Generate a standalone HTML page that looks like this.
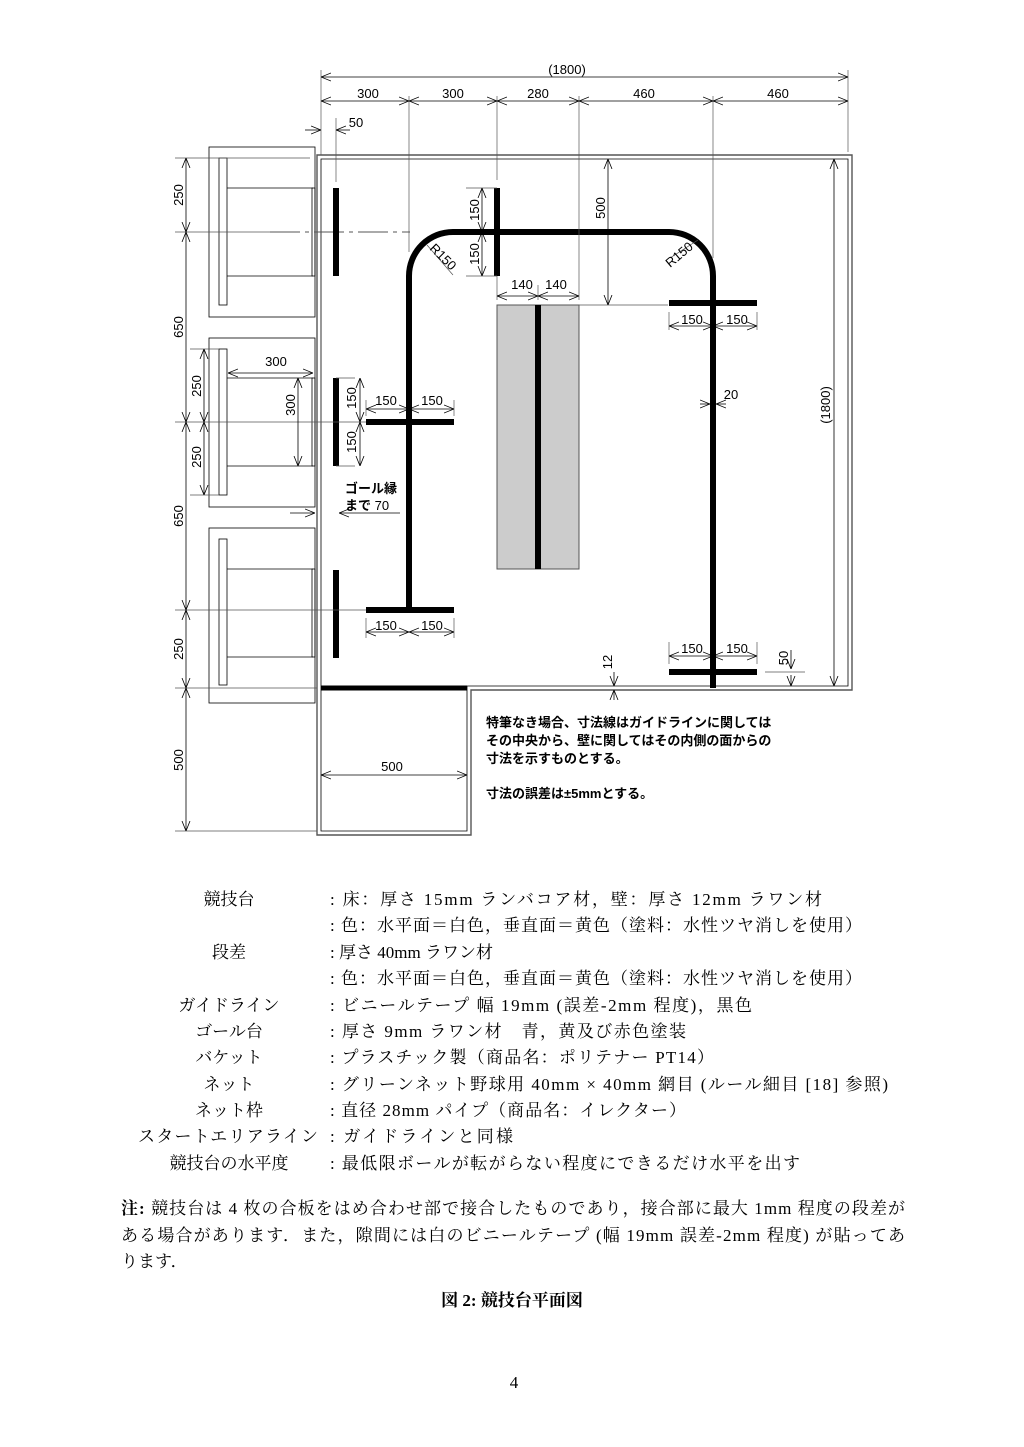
<!DOCTYPE html>
<html><head><meta charset="utf-8"><style>
body{margin:0;background:#fff;}
svg{display:block}
.d{font-family:"Liberation Sans","Noto Sans CJK JP",sans-serif;font-size:13px;fill:#000}
.b{font-family:"Liberation Serif","Noto Serif CJK SC",serif;font-size:17px;fill:#000}
.t{stroke:#000;stroke-width:0.8;fill:none}
.g{stroke:#555;stroke-width:1.4;fill:none}
.k{stroke:#000;stroke-width:6;fill:none}
</style></head><body>
<svg width="1024" height="1447" viewBox="0 0 1024 1447" xmlns="http://www.w3.org/2000/svg">
<defs>
<marker id="a" viewBox="0 0 10 10" refX="10" refY="5" markerWidth="10" markerHeight="10" orient="auto-start-reverse" markerUnits="userSpaceOnUse"><path d="M0,1 L10,5 L0,9" fill="none" stroke="#000" stroke-width="0.8"/></marker>
</defs>
<path class="g" d="M317,155 H852 V690 H471 V835 H317 Z"/>
<path class="t" d="M321,159 H848 V686 H467 V831 H321 Z"/>
<line x1="321" y1="688" x2="467" y2="688" stroke="#000" stroke-width="5"/>
<g class="t">
<rect x="209" y="147" width="106" height="170"/><rect x="219" y="158" width="8" height="147"/>
<line x1="227" y1="188" x2="313" y2="188"/><line x1="227" y1="276" x2="313" y2="276"/><rect x="312" y="188" width="3" height="88"/>
<rect x="209" y="338" width="106" height="169"/><rect x="219" y="349" width="8" height="146"/>
<line x1="227" y1="378" x2="313" y2="378"/><line x1="227" y1="466" x2="313" y2="466"/><rect x="312" y="378" width="3" height="88"/>
<rect x="209" y="528" width="106" height="175"/><rect x="219" y="539" width="8" height="146"/>
<line x1="227" y1="569" x2="313" y2="569"/><line x1="227" y1="657" x2="313" y2="657"/><rect x="312" y="569" width="3" height="88"/>
</g>
<rect x="497" y="305" width="82" height="264" fill="#ccc" stroke="#555" stroke-width="1"/>
<line x1="538" y1="305" x2="538" y2="569" stroke="#000" stroke-width="6"/>
<line x1="270" y1="232" x2="410" y2="232" stroke="#555" stroke-width="1" stroke-dasharray="30,5,4,5"/>
<path class="k" d="M409,610 V276 A44,44 0 0 1 453,232 H669 A44,44 0 0 1 713,276 V688"/>
<line class="k" x1="497" y1="188" x2="497" y2="276"/>
<line class="k" x1="336" y1="188" x2="336" y2="276"/>
<line class="k" x1="336" y1="378" x2="336" y2="466"/>
<line class="k" x1="336" y1="570" x2="336" y2="658"/>
<line class="k" x1="366" y1="422" x2="454" y2="422"/>
<line class="k" x1="366" y1="610" x2="454" y2="610"/>
<line class="k" x1="669" y1="303" x2="757" y2="303"/>
<line class="k" x1="669" y1="672" x2="757" y2="672"/>
<g stroke="#555" stroke-width="0.7">
<line x1="321" y1="70" x2="321" y2="155"/><line x1="848" y1="70" x2="848" y2="152"/>
<line x1="409" y1="96" x2="409" y2="252"/><line x1="497" y1="96" x2="497" y2="180"/><line x1="579" y1="96" x2="579" y2="300"/><line x1="713" y1="96" x2="713" y2="258"/>
<line x1="336" y1="118" x2="336" y2="182"/>
<line x1="175" y1="158" x2="310" y2="158"/><line x1="175" y1="232" x2="270" y2="232"/><line x1="175" y1="422" x2="366" y2="422"/><line x1="175" y1="610" x2="366" y2="610"/><line x1="175" y1="688" x2="317" y2="688"/><line x1="175" y1="831" x2="317" y2="831"/>
<line x1="190" y1="349" x2="219" y2="349"/><line x1="190" y1="495" x2="219" y2="495"/>
<line x1="466" y1="188" x2="497" y2="188"/><line x1="466" y1="276" x2="497" y2="276"/>
<line x1="355" y1="378" x2="336" y2="378"/><line x1="355" y1="466" x2="336" y2="466"/>
<line x1="579" y1="305" x2="612" y2="305"/><line x1="497" y1="276" x2="497" y2="300"/><line x1="538" y1="285" x2="538" y2="300"/>
<line x1="366" y1="400" x2="366" y2="416"/><line x1="454" y1="400" x2="454" y2="416"/>
<line x1="366" y1="618" x2="366" y2="638"/><line x1="454" y1="618" x2="454" y2="638"/>
<line x1="669" y1="312" x2="669" y2="330"/><line x1="757" y1="312" x2="757" y2="330"/>
<line x1="669" y1="642" x2="669" y2="664"/><line x1="757" y1="642" x2="757" y2="664"/>
<line x1="612" y1="305" x2="668" y2="305"/>
<line x1="765" y1="672" x2="805" y2="672"/>
<line x1="427" y1="245" x2="453" y2="275"/>
<line x1="698" y1="240" x2="670" y2="258"/>
</g>
<g class="t" marker-start="url(#a)" marker-end="url(#a)">
<line x1="321" y1="77" x2="848" y2="77"/>
<line x1="321" y1="101" x2="409" y2="101"/><line x1="409" y1="101" x2="497" y2="101"/><line x1="497" y1="101" x2="579" y2="101"/><line x1="579" y1="101" x2="713" y2="101"/><line x1="713" y1="101" x2="848" y2="101"/>
<line x1="186" y1="158" x2="186" y2="232"/><line x1="186" y1="232" x2="186" y2="422"/><line x1="186" y1="422" x2="186" y2="610"/><line x1="186" y1="610" x2="186" y2="688"/><line x1="186" y1="688" x2="186" y2="831"/>
<line x1="204" y1="349" x2="204" y2="422"/><line x1="204" y1="422" x2="204" y2="495"/>
<line x1="228" y1="373" x2="313" y2="373"/>
<line x1="298" y1="378" x2="298" y2="466"/>
<line x1="482" y1="188" x2="482" y2="232"/><line x1="482" y1="232" x2="482" y2="276"/>
<line x1="360" y1="378" x2="360" y2="422"/><line x1="360" y1="422" x2="360" y2="466"/>
<line x1="497" y1="296" x2="538" y2="296"/><line x1="538" y1="296" x2="579" y2="296"/>
<line x1="608" y1="159" x2="608" y2="305"/>
<line x1="366" y1="409" x2="409" y2="409"/><line x1="409" y1="409" x2="454" y2="409"/>
<line x1="366" y1="632" x2="409" y2="632"/><line x1="409" y1="632" x2="454" y2="632"/>
<line x1="669" y1="326" x2="713" y2="326"/><line x1="713" y1="326" x2="757" y2="326"/>
<line x1="669" y1="656" x2="713" y2="656"/><line x1="713" y1="656" x2="757" y2="656"/>
<line x1="834" y1="159" x2="834" y2="686"/>
<line x1="321" y1="775" x2="467" y2="775"/>
</g>
<g class="t" marker-end="url(#a)">
<line x1="305" y1="130" x2="321" y2="130"/><line x1="350" y1="130" x2="336" y2="130"/>
<line x1="700" y1="404" x2="710" y2="404"/><line x1="726" y1="404" x2="716" y2="404"/>
<line x1="290" y1="513" x2="315" y2="513"/><line x1="400" y1="513" x2="339" y2="513"/>
<line x1="614" y1="672" x2="614" y2="686"/><line x1="614" y1="700" x2="614" y2="690"/>
<line x1="791" y1="650" x2="791" y2="669"/><line x1="791" y1="675" x2="791" y2="686"/>
</g>
<g class="d" text-anchor="middle">
<text x="567" y="74">(1800)</text>
<text x="368" y="98">300</text><text x="453" y="98">300</text><text x="538" y="98">280</text><text x="644" y="98">460</text><text x="778" y="98">460</text>
<text x="356" y="127">50</text>
<text x="276" y="366">300</text>
<text x="522" y="289">140</text><text x="556" y="289">140</text>
<text x="386" y="405">150</text><text x="432" y="405">150</text>
<text x="386" y="630">150</text><text x="432" y="630">150</text>
<text x="692" y="324">150</text><text x="737" y="324">150</text>
<text x="692" y="653">150</text><text x="737" y="653">150</text>
<text x="731" y="399">20</text>
<text x="392" y="771">500</text>
<g transform="rotate(-90)">
<text x="-195" y="183">250</text><text x="-327" y="183">650</text><text x="-516" y="183">650</text><text x="-649" y="183">250</text><text x="-760" y="183">500</text>
<text x="-386" y="201">250</text><text x="-457" y="201">250</text>
<text x="-405" y="295">300</text>
<text x="-210" y="479">150</text><text x="-254" y="479">150</text>
<text x="-398" y="356">150</text><text x="-442" y="356">150</text>
<text x="-208" y="605">500</text>
<text x="-405" y="830">(1800)</text>
<text x="-662" y="612">12</text>
<text x="-658" y="788">50</text>
</g>
<text transform="translate(440,260) rotate(45)">R150</text>
<text transform="translate(682,258) rotate(-40)">R150</text>
</g>
<g class="d" font-weight="bold">
<text x="345" y="493">ゴール縁</text>
<text x="345" y="510">まで <tspan font-weight="normal">70</tspan></text>
<text x="486" y="727">特筆なき場合、寸法線はガイドラインに関しては</text>
<text x="486" y="745">その中央から、壁に関してはその内側の面からの</text>
<text x="486" y="763">寸法を示すものとする。</text>
<text x="486" y="798">寸法の誤差は±5mmとする。</text>
</g>
<g class="b">
<g text-anchor="middle">
<text x="229" y="905">競技台</text>
<text x="229" y="958">段差</text>
<text x="229" y="1011">ガイドライン</text>
<text x="229" y="1037">ゴール台</text>
<text x="229" y="1063">バケット</text>
<text x="229" y="1090">ネット</text>
<text x="229" y="1116">ネット枠</text>
<text x="228" y="1142" textLength="180" lengthAdjust="spacing">スタートエリアライン</text>
<text x="229" y="1169">競技台の水平度</text>
</g>
<text x="330" y="905" textLength="492" lengthAdjust="spacing">: 床：厚さ 15mm ランバコア材，壁：厚さ 12mm ラワン材</text>
<text x="330" y="931" textLength="532" lengthAdjust="spacing">: 色：水平面＝白色，垂直面＝黄色（塗料：水性ツヤ消しを使用）</text>
<text x="330" y="958" textLength="163" lengthAdjust="spacing">: 厚さ 40mm ラワン材</text>
<text x="330" y="984" textLength="532" lengthAdjust="spacing">: 色：水平面＝白色，垂直面＝黄色（塗料：水性ツヤ消しを使用）</text>
<text x="330" y="1011" textLength="422" lengthAdjust="spacing">: ビニールテープ 幅 19mm (誤差-2mm 程度)，黒色</text>
<text x="330" y="1037" textLength="356" lengthAdjust="spacing">: 厚さ 9mm ラワン材　青，黄及び赤色塗装</text>
<text x="330" y="1063" textLength="384" lengthAdjust="spacing">: プラスチック製（商品名：ポリテナー PT14）</text>
<text x="330" y="1090" textLength="558" lengthAdjust="spacing">: グリーンネット野球用 40mm × 40mm 網目 (ルール細目 [18] 参照)</text>
<text x="330" y="1116" textLength="356" lengthAdjust="spacing">: 直径 28mm パイプ（商品名：イレクター）</text>
<text x="330" y="1142" textLength="183" lengthAdjust="spacing">: ガイドラインと同様</text>
<text x="330" y="1169" textLength="470" lengthAdjust="spacing">: 最低限ボールが転がらない程度にできるだけ水平を出す</text>
<text x="121" y="1214" textLength="784" lengthAdjust="spacing"><tspan font-weight="bold">注:</tspan> 競技台は 4 枚の合板をはめ合わせ部で接合したものであり，接合部に最大 1mm 程度の段差が</text>
<text x="121" y="1241" textLength="784" lengthAdjust="spacing">ある場合があります．また，隙間には白のビニールテープ (幅 19mm 誤差-2mm 程度) が貼ってあ</text>
<text x="121" y="1267">ります．</text>
<text x="512" y="1306" text-anchor="middle" font-weight="bold">図 2: 競技台平面図</text>
<text x="514" y="1388" text-anchor="middle">4</text>
</g>
</svg>
</body></html>
